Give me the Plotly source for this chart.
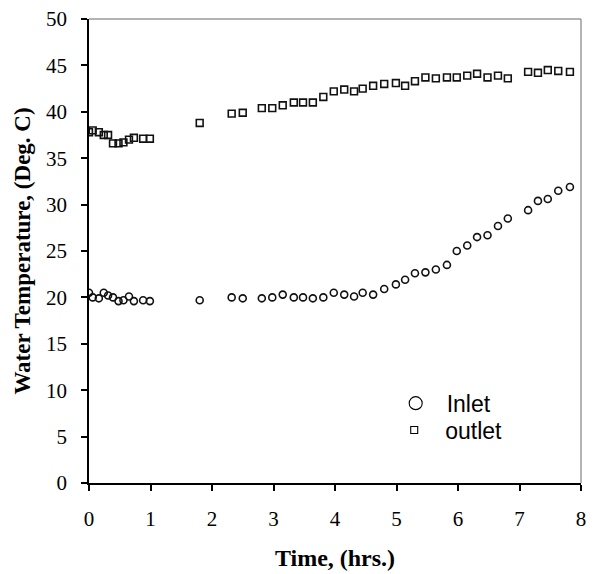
import plotly.graph_objects as go

# Sampling times (hours)
time_hrs = [0.0, 0.06, 0.16, 0.24, 0.31, 0.39, 0.48, 0.56, 0.65, 0.73, 0.88, 0.99,
            1.80, 2.32, 2.50,
            2.81, 2.98, 3.15, 3.33, 3.48, 3.64, 3.81, 3.98, 4.15, 4.31, 4.45, 4.62,
            4.80, 4.99, 5.14, 5.30, 5.47, 5.64, 5.82, 5.98, 6.15, 6.31, 6.48, 6.65,
            6.81, 7.14, 7.30, 7.46, 7.63, 7.82]

# Water temperatures (Deg. C)
inlet_temp = [20.5, 20.0, 19.9, 20.5, 20.2, 20.0, 19.6, 19.7, 20.1, 19.6, 19.7, 19.6,
              19.7, 20.0, 19.9,
              19.9, 20.0, 20.3, 20.0, 20.0, 19.9, 20.0, 20.5, 20.3, 20.1, 20.5, 20.3,
              20.9, 21.4, 21.9, 22.6, 22.7, 23.0, 23.5, 25.0, 25.6, 26.5, 26.7, 27.7,
              28.5, 29.4, 30.4, 30.6, 31.5, 31.9]

outlet_temp = [37.8, 38.0, 37.8, 37.5, 37.5, 36.6, 36.6, 36.7, 37.0, 37.2, 37.1, 37.1,
               38.8, 39.8, 39.9,
               40.4, 40.4, 40.7, 41.0, 41.0, 41.0, 41.6, 42.2, 42.4, 42.2, 42.5, 42.8,
               43.0, 43.1, 42.8, 43.3, 43.7, 43.6, 43.7, 43.7, 43.9, 44.1, 43.7, 43.9,
               43.6, 44.3, 44.2, 44.5, 44.4, 44.3]

x_ticks = [0, 1, 2, 3, 4, 5, 6, 7, 8]
y_ticks = [0, 5, 10, 15, 20, 25, 30, 35, 40, 45, 50]

serif = "Liberation Serif, Times New Roman, serif"
sans = "Liberation Sans, Arial, sans-serif"

fig = go.Figure()

fig.add_trace(go.Scatter(
    x=time_hrs, y=inlet_temp, mode="markers", name="Inlet", showlegend=False,
    marker=dict(symbol="circle-open", size=7, color="#111111",
                line=dict(width=1.6, color="#111111")),
))
fig.add_trace(go.Scatter(
    x=time_hrs, y=outlet_temp, mode="markers", name="outlet", showlegend=False,
    marker=dict(symbol="square-open", size=6.8, color="#111111",
                line=dict(width=1.6, color="#111111")),
))

# Legend entries (larger symbols than the plotted points), one legend box each
fig.add_trace(go.Scatter(
    x=[None], y=[None], mode="markers", name="Inlet", legend="legend",
    marker=dict(symbol="circle-open", size=13, color="#000000",
                line=dict(width=1.1, color="#000000")),
))
fig.add_trace(go.Scatter(
    x=[None], y=[None], mode="markers", name="outlet", legend="legend2",
    marker=dict(symbol="square-open", size=7, color="#000000",
                line=dict(width=1.1, color="#000000")),
))

# Light grey frame on the top and right sides
fig.add_shape(type="line", xref="paper", yref="paper", x0=0, x1=1, y0=1, y1=1,
              line=dict(color="#9a9a9a", width=1.5), layer="below")
fig.add_shape(type="line", xref="paper", yref="paper", x0=1, x1=1, y0=0, y1=1,
              line=dict(color="#9a9a9a", width=1.5), layer="below")

legend_style = dict(
    xanchor="left", yanchor="middle",
    font=dict(family=sans, size=23, color="black"),
    bgcolor="rgba(0,0,0,0)", itemwidth=52, tracegroupgap=0,
)

fig.update_layout(
    width=593, height=574,
    margin=dict(l=89, r=7, t=15, b=88),
    paper_bgcolor="white", plot_bgcolor="white",
    font=dict(family=serif, color="black", size=21),
    legend=dict(x=0.601, y=0.172, **legend_style),
    legend2=dict(x=0.598, y=0.114, **legend_style),
    xaxis=dict(
        range=[0, 8], tickvals=x_ticks, ticktext=[str(v) for v in x_ticks],
        showgrid=False, zeroline=False,
        showline=True, linecolor="black", linewidth=1.5,
        ticks="outside", ticklen=6, tickwidth=1.5, tickcolor="black",
        ticklabelstandoff=10,
        tickfont=dict(family=serif, size=21, color="black"),
        title=dict(text="<b>Time, (hrs.)</b>",
                   font=dict(family=serif, size=24, color="black"), standoff=19),
    ),
    yaxis=dict(
        range=[0, 50], tickvals=y_ticks, ticktext=[str(v) for v in y_ticks],
        showgrid=False, zeroline=False,
        showline=True, linecolor="black", linewidth=1.5,
        ticks="outside", ticklen=6, tickwidth=1.5, tickcolor="black",
        ticklabelstandoff=10,
        tickfont=dict(family=serif, size=21, color="black"),
        title=dict(text="<b>Water Temperature, (Deg. C)</b>",
                   font=dict(family=serif, size=23, color="black"), standoff=9),
    ),
)

fig.write_html("out.html")
